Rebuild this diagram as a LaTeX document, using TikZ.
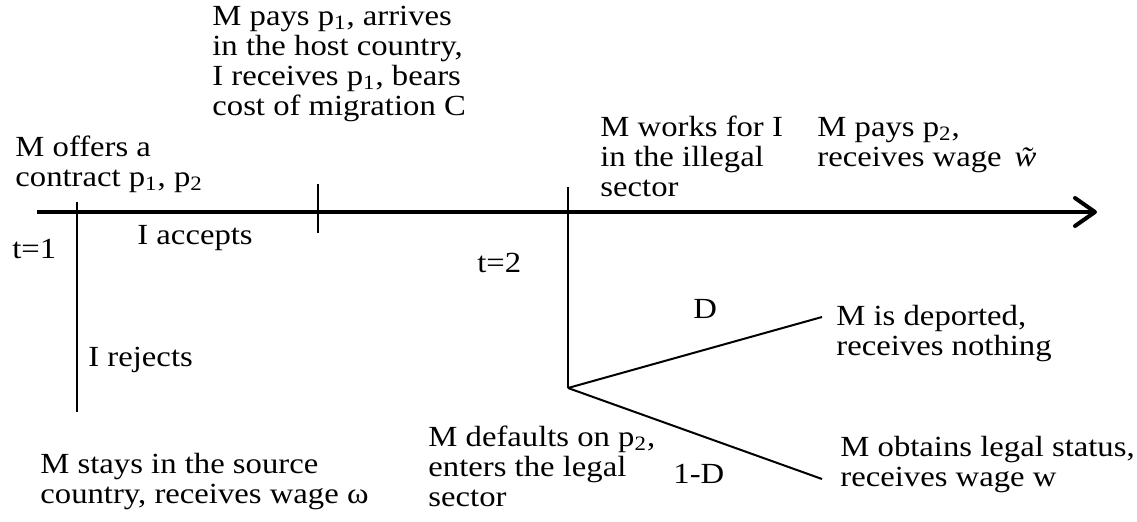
\documentclass[tikz,border=0pt]{standalone}
\usepackage{fontspec}
\setmainfont{Liberation Serif}[FakeStretch=1.12]
\usetikzlibrary{arrows.meta}

\begin{document}
\begin{tikzpicture}[x=0.5pt,y=-0.5pt,
  lbl/.style={font=\fontsize{14.6pt}{15pt}\selectfont,align=left,anchor=base west,inner sep=0pt},
  tick/.style={line width=1pt}]
\useasboundingbox (0,0) rectangle (1137,521);
% time line and its ticks
\coordinate (start) at (37,212);
\coordinate (end) at (1097,212);
\coordinate (t1top) at (77,202);
\coordinate (t1bot) at (77,412);
\coordinate (acctop) at (318,184);
\coordinate (accbot) at (318,233);
\coordinate (t2top) at (568,187);
\coordinate (t2bot) at (568,388);
\coordinate (depend) at (822,317);
\coordinate (legend) at (822,479);
\draw[line width=2pt,-{Straight Barb[length=10pt,width=14pt,round]}](start)--(end);
\draw[tick](t1top)--(t1bot);
\draw[tick](acctop)--(accbot);
\draw[tick](t2top)--(t2bot);
\draw[tick](t2bot)--(depend)
(t2bot)--(legend);
% texts (placed by the baseline of their last line)
\node[lbl] (offer) at (15,186) {M offers a\\contract p\textsubscript{1}, p\textsubscript{2}};
\node[lbl] (pay1) at (212,115) {M pays p\textsubscript{1}, arrives\\in the host country,\\I receives p\textsubscript{1}, bears\\cost of migration C};
\node[lbl] (work) at (600,196) {M works for I\\in the illegal\\sector};
\node[lbl] (pay2) at (817,166) {M pays p\textsubscript{2},\\receives wage~\,\textit{\~{w}}};
\node[lbl] (accept) at (137,244) {I accepts};
\node[lbl] (tone) at (12,258) {t=1};
\node[lbl] (ttwo) at (477,272) {t=2};
\node[lbl] (reject) at (88,366) {I rejects};
\node[lbl] (stay) at (40,503) {M stays in the source\\country, receives wage ω};
\node[lbl] (default) at (428,506) {M defaults on p\textsubscript{2},\\enters the legal\\sector};
\node[lbl] (prD) at (693,318) {D};
\node[lbl] (prnotD) at (673,483) {1-D};
\node[lbl] (deport) at (836,355) {M is deported,\\receives nothing};
\node[lbl] (legal) at (840,486) {M obtains legal status,\\receives wage w};
\end{tikzpicture}
\end{document}
